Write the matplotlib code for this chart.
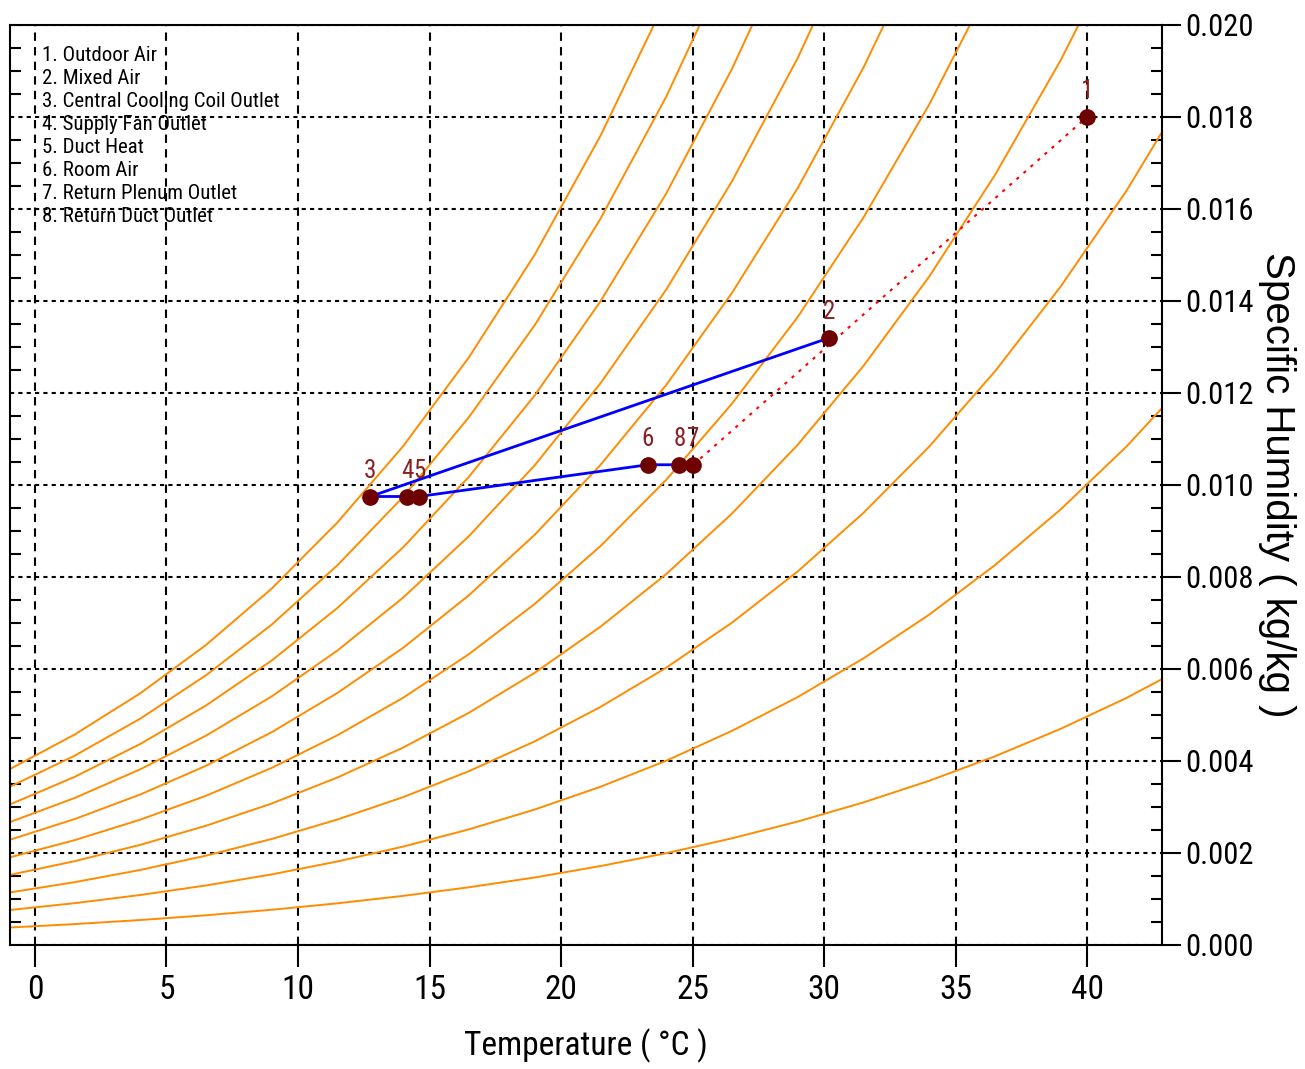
import matplotlib.pyplot as plt
from matplotlib.ticker import MultipleLocator, FormatStrFormatter

plt.rcParams['font.family'] = ['Roboto Condensed', 'DejaVu Sans']

# temperatures (deg C) where the relative humidity lines were read
temps = [-1, 1.5, 4, 6.5, 9, 11.5, 14, 16.5, 19, 21.5, 24, 26.5, 29, 31.5, 34, 36.5, 39, 41.5, 44]

# specific humidity (kg/kg) along each relative humidity line, 10% ... 100%
rh_10 = [0.000379, 0.000454, 0.000543, 0.000646, 0.000766, 0.000906, 0.001068, 0.001255, 0.001468, 0.001716,
         0.001996, 0.002319, 0.002684, 0.003100, 0.003570, 0.004102, 0.004700, 0.005371, 0.006130]
rh_20 = [0.000758, 0.000909, 0.001087, 0.001294, 0.001535, 0.001816, 0.002139, 0.002514, 0.002945, 0.003440,
         0.004006, 0.004655, 0.005390, 0.006231, 0.007182, 0.008259, 0.009471, 0.010836, 0.012382]
rh_30 = [0.001138, 0.001365, 0.001631, 0.001942, 0.002305, 0.002728, 0.003215, 0.003779, 0.004427, 0.005175,
         0.006028, 0.007008, 0.008121, 0.009394, 0.010836, 0.012471, 0.014316, 0.016397, 0.018759]
rh_40 = [0.001519, 0.001821, 0.002177, 0.002592, 0.003076, 0.003642, 0.004293, 0.005049, 0.005917, 0.006919,
         0.008063, 0.009379, 0.010875, 0.012589, 0.014532, 0.016740, 0.019236, 0.022057]
rh_50 = [0.001899, 0.002278, 0.002724, 0.003244, 0.003851, 0.004560, 0.005376, 0.006324, 0.007414, 0.008672,
         0.010112, 0.011769, 0.013653, 0.015815, 0.018272, 0.021067]
rh_60 = [0.002280, 0.002736, 0.003271, 0.003896, 0.004626, 0.005480, 0.006462, 0.007604, 0.008918, 0.010436,
         0.012174, 0.014176, 0.016456, 0.019076, 0.022055]
rh_70 = [0.002662, 0.003194, 0.003819, 0.004550, 0.005404, 0.006402, 0.007553, 0.008889, 0.010429, 0.012210,
         0.014249, 0.016602, 0.019284, 0.022369]
rh_80 = [0.003044, 0.003653, 0.004369, 0.005206, 0.006184, 0.007328, 0.008647, 0.010180, 0.011948, 0.013993,
         0.016338, 0.019046, 0.022137]
rh_90 = [0.003427, 0.004113, 0.004920, 0.005863, 0.006965, 0.008256, 0.009744, 0.011476, 0.013474, 0.015787,
         0.018441, 0.021509]
rh_100 = [0.003810, 0.004573, 0.005471, 0.006521, 0.007748, 0.009187, 0.010846, 0.012777, 0.015007, 0.017591,
          0.020558, 0.023991]
rh_curves = [rh_10, rh_20, rh_30, rh_40, rh_50, rh_60, rh_70, rh_80, rh_90, rh_100]

# state points of the air system
point_names = ['Outdoor Air', 'Mixed Air', 'Central Cooling Coil Outlet', 'Supply Fan Outlet',
               'Duct Heat', 'Room Air', 'Return Plenum Outlet', 'Return Duct Outlet']
point_t = [40.0, 30.2, 12.75, 14.15, 14.6, 23.3, 25.03, 24.5]
point_w = [0.0180, 0.0132, 0.00975, 0.00975, 0.00975, 0.01044, 0.01044, 0.01044]

# process path (point numbers)
blue_path = [2, 3, 4, 5, 6, 8, 7]
mix_path = [7, 1]

fig = plt.figure(figsize=(13.05, 10.69), dpi=100)
ax = fig.add_axes([10 / 1305, 1 - 945 / 1069, 1152 / 1305, 920 / 1069])

for c in rh_curves:
    ax.plot(temps[:len(c)], c, color='#ff8c00', lw=1.4, zorder=2)

bx = [point_t[i - 1] for i in blue_path]
by = [point_w[i - 1] for i in blue_path]
ax.plot(bx, by, color='#0000ff', lw=2, zorder=3)
mx = [point_t[i - 1] for i in mix_path]
my = [point_w[i - 1] for i in mix_path]
ax.plot(mx, my, color='#ff0000', lw=1.5, linestyle=(0, (1.5, 3)), zorder=3)

ax.plot(point_t, point_w, 'o', color='#6e0000', ms=11, zorder=4)
for i in range(len(point_t)):
    ax.annotate(str(i + 1), (point_t[i], point_w[i]), xytext=(0, 10), textcoords='offset points',
                ha='center', va='bottom', fontsize=18, color='#8b2020', zorder=5)

for i, name in enumerate(point_names):
    ax.text(0.028, 0.967 - i * 0.025, '%d. %s' % (i + 1, name), transform=ax.transAxes,
            ha='left', va='center', fontsize=15, color='black', zorder=5)

ax.set_xlim(-0.95, 42.85)
ax.set_ylim(0, 0.020)

ax.xaxis.set_major_locator(MultipleLocator(5))
ax.yaxis.set_major_locator(MultipleLocator(0.002))
ax.yaxis.set_minor_locator(MultipleLocator(0.0005))
ax.yaxis.set_major_formatter(FormatStrFormatter('%.3f'))

ax.tick_params(axis='x', which='major', direction='out', length=16, width=1.5, labelsize=24, pad=5)
ax.tick_params(axis='y', which='major', left=False, right=True, labelleft=False, labelright=True,
               direction='out', length=14, width=1.5, labelsize=22, pad=3)
ax.tick_params(axis='y', which='minor', left=True, right=True, direction='in', length=8, width=1.5)

ax.xaxis.grid(True, color='black', linestyle=(0, (4, 3)), lw=1.5)
ax.yaxis.grid(True, color='black', linestyle=(0, (2, 2)), lw=1.5)
ax.set_axisbelow(True)

for s in ax.spines.values():
    s.set_linewidth(1.5)

ax.set_xlabel('Temperature ( °C )', fontsize=24, va='center')
ax.xaxis.set_label_coords(0.5, -0.109)
ax.yaxis.set_label_position('right')
ax.set_ylabel('Specific Humidity ( kg/kg )', fontsize=29, rotation=-90, va='center', ha='center',
              family=['Liberation Sans', 'DejaVu Sans'])
ax.yaxis.set_label_coords(1.0995, 0.5)

fig.savefig('out.png', dpi=100)
